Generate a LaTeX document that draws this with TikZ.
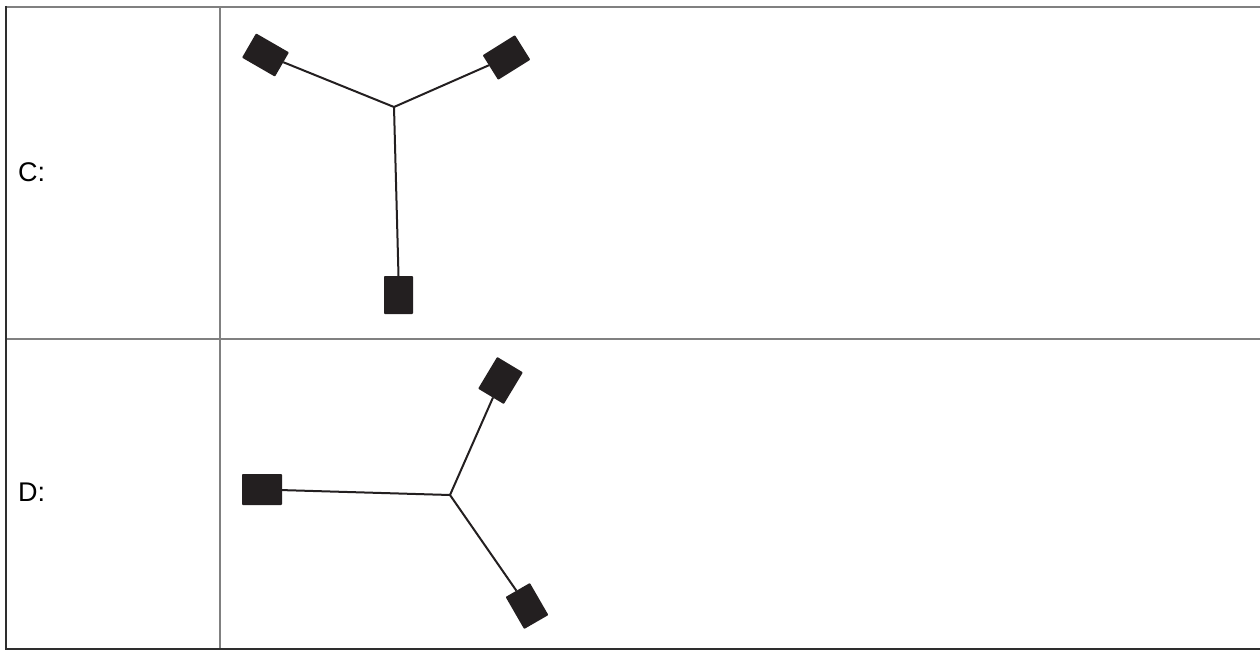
\documentclass[tikz,border=0pt]{standalone}
\usepackage{fontspec}
\setmainfont{Liberation Sans}
\definecolor{sqcol}{HTML}{231F20}
\definecolor{gridgray}{HTML}{808080}
\definecolor{griddark}{HTML}{2E2E2E}
\begin{document}
\begin{tikzpicture}[x=1pt,y=-1pt,
  sq/.style={fill=sqcol,draw=none,inner sep=0pt,outer sep=0pt,rectangle,rounded corners=0.8pt},
  arm/.style={draw=sqcol,line width=2pt},
  gridg/.style={draw=gridgray,line width=2pt},
  gridd/.style={draw=griddark,line width=2.4pt},
  lab/.style={anchor=base west,inner sep=0pt,font=\fontsize{27}{32}\selectfont}]
\useasboundingbox (0,0) rectangle (1260,650);
% table
\draw[gridg] (6,7) -- (1260,7);
\draw[gridg] (6,339) -- (1260,339);
\draw[gridg] (220,7) -- (220,649);
\draw[gridd] (6,6) -- (6,649);
\draw[gridd] (5,649) -- (1260,649);
% labels
\node[lab] (lc) at (18,181) {C:};
\node[lab] (ld) at (18,501) {D:};
% molecule C
\coordinate (cj) at (394,107);
\node[sq,minimum width=38pt,minimum height=28pt,rotate=-30] (c1) at (265.5,55) {};
\node[sq,minimum width=38pt,minimum height=29pt,rotate=32] (c2) at (506.5,57.5) {};
\node[sq,minimum width=29pt,minimum height=38pt] (c3) at (398.5,295) {};
\draw[arm] (cj) -- (c1);
\draw[arm] (cj) -- (c2);
\draw[arm] (cj) -- (c3.north);
% molecule D
\coordinate (dj) at (450,495);
\node[sq,minimum width=40pt,minimum height=31pt] (d1) at (262,489.5) {};
\node[sq,minimum width=37pt,minimum height=30pt,rotate=59] (d2) at (500.5,380.5) {};
\node[sq,minimum width=37pt,minimum height=28pt,rotate=-60] (d3) at (527,606) {};
\draw[arm] (dj) -- (d1);
\draw[arm] (dj) -- (d2);
\draw[arm] (dj) -- (d3);
\end{tikzpicture}
\end{document}
